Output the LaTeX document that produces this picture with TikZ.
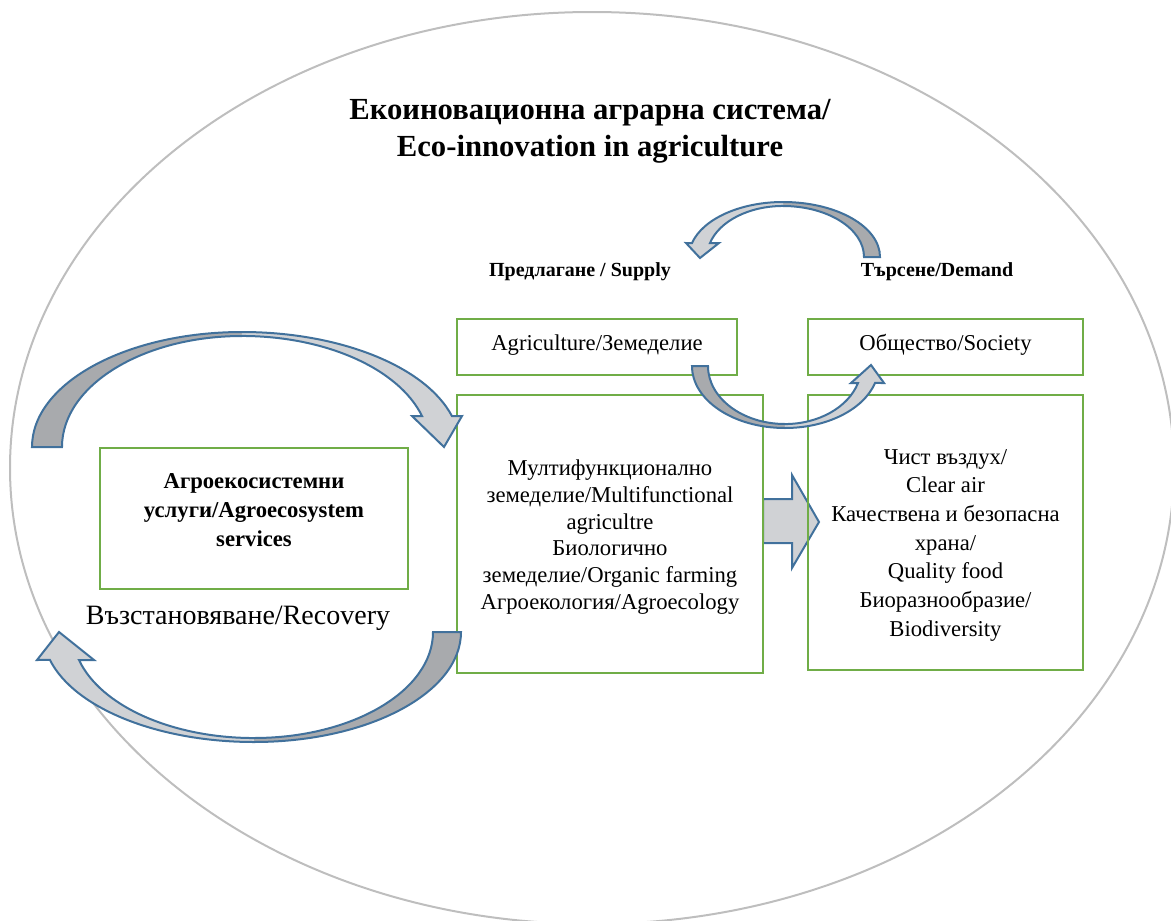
\documentclass[tikz,border=0pt]{standalone}
\usepackage{fontspec}
\setmainfont{Liberation Serif}
\definecolor{boxgreen}{HTML}{70AD47}
\definecolor{arrblue}{HTML}{41719C}
\definecolor{lightg}{HTML}{D0D2D5}
\definecolor{darkg}{HTML}{A8AAAD}
\definecolor{ringgray}{HTML}{BEBEBE}
\begin{document}
\begin{tikzpicture}[x=0.75pt,y=-0.75pt,
  gbox/.style={draw=boxgreen,line width=1.5pt,inner sep=0pt},
  outline/.style={draw=arrblue,line width=1.5pt,line join=miter},
  lightpart/.style={outline,fill=lightg},
  txt/.style={align=center,inner sep=0pt,font=\fontsize{17}{20}\selectfont},
  boldlbl/.style={inner sep=0pt,font=\bfseries\fontsize{15}{18}\selectfont}
]
\useasboundingbox (0,0) rectangle (1171,921);
% outer ring
\draw[ringgray,line width=1.5pt] (592,468) ellipse[x radius=582,y radius=456];

% title
\node[align=center,inner sep=0pt,font=\bfseries\fontsize{23}{27.75}\selectfont] (title) at (590,131)
  {Екоиновационна аграрна система/\\Eco-innovation in agriculture};

% supply / demand labels
\node[boldlbl] (supply) at (580,272) {Предлагане / Supply};
\node[boldlbl] (demand) at (937,272) {Търсене/Demand};

% straight block arrow
\draw[lightpart] (763,499) -- (792,499) -- (792,475) -- (819,522) -- (792,568) -- (792,543) -- (763,543) -- cycle;

% boxes
\node[gbox,minimum width=210pt,minimum height=42pt] (agri) at (597,347) {};
\node[txt] (agritxt) at (597,345) {Agriculture/Земеделие};
\node[gbox,minimum width=206.25pt,minimum height=42pt] (soc) at (945.5,347) {};
\node[txt] (soctxt) at (945.5,345) {Общество/Society};
\node[gbox,minimum width=229.5pt,minimum height=208.5pt] (mid) at (610,534) {};
\node[txt] (midtxt) at (610,537) {Мултифункционално\\земеделие/Multifunctional\\agricultre\\Биологично\\земеделие/Organic farming\\Агроекология/Agroecology};
\node[gbox,minimum width=206.25pt,minimum height=206.25pt] (right) at (945.5,532.5) {};
\node[txt,font=\fontsize{17}{21.5}\selectfont] (righttxt) at (945.5,545) {Чист въздух/\\Clear air\\Качествена и безопасна\\храна/\\Quality food\\Биоразнообразие/\\Biodiversity};
\node[gbox,minimum width=231pt,minimum height=105.75pt] (left) at (254,518.5) {};
\node[txt,font=\bfseries\fontsize{17}{21.75}\selectfont] (lefttxt) at (254,510) {Агроекосистемни\\услуги/Agroecosystem\\services};

% recovery label
\node[inner sep=0pt,font=\fontsize{21}{25}\selectfont] (recovery) at (238,618) {Възстановяване/Recovery};

% curved arrow 1 (top left)
\fill[darkg] (32,447) arc[start angle=180,end angle=270,x radius=210,y radius=115] -- (242,336) arc[start angle=270,end angle=180,x radius=180,y radius=111] -- cycle;
\fill[lightg] (242,332) arc[start angle=270,end angle=344.4,x radius=218,y radius=115] -- (462,416) -- (444,447) -- (412,416) -- (422,416) arc[start angle=343.8,end angle=270,x radius=187.5,y radius=111] -- cycle;
\draw[outline] (242,336) arc[start angle=270,end angle=180,x radius=180,y radius=111] -- (32,447)
  arc[start angle=180,end angle=270,x radius=210,y radius=115]
  arc[start angle=270,end angle=344.4,x radius=218,y radius=115] -- (462,416) -- (444,447) -- (412,416) -- (422,416)
  arc[start angle=343.8,end angle=270,x radius=187.5,y radius=111];

% curved arrow 2 (bottom left)
\fill[darkg] (461,632) arc[start angle=0,end angle=90,x radius=207,y radius=110] -- (254,738) arc[start angle=90,end angle=0,x radius=179,y radius=106] -- cycle;
\fill[lightg] (254,742) arc[start angle=90,end angle=165.3,x radius=211,y radius=110] -- (37,660) -- (59,632) -- (94,660) -- (79,660) arc[start angle=164.7,end angle=90,x radius=181.4,y radius=106] -- cycle;
\draw[outline] (254,738) arc[start angle=90,end angle=0,x radius=179,y radius=106] -- (461,632)
  arc[start angle=0,end angle=90,x radius=207,y radius=110]
  arc[start angle=90,end angle=165.3,x radius=211,y radius=110] -- (37,660) -- (59,632) -- (94,660) -- (79,660)
  arc[start angle=164.7,end angle=90,x radius=181.4,y radius=106];

% curved arrow 3 (demand -> supply)
\fill[darkg] (880,257) arc[start angle=0,end angle=-90,x radius=97,y radius=55] -- (783,206) arc[start angle=-90,end angle=0,x radius=81,y radius=51] -- cycle;
\fill[lightg] (783,202) arc[start angle=-90,end angle=-165.3,x radius=94.1,y radius=55] -- (686,243) -- (700,258) -- (719,243) -- (710,243) arc[start angle=-164.1,end angle=-90,x radius=75.9,y radius=51] -- cycle;
\draw[outline] (783,206) arc[start angle=-90,end angle=0,x radius=81,y radius=51] -- (880,257)
  arc[start angle=0,end angle=-90,x radius=97,y radius=55]
  arc[start angle=-90,end angle=-165.3,x radius=94.1,y radius=55] -- (686,243) -- (700,258) -- (719,243) -- (710,243)
  arc[start angle=-164.1,end angle=-90,x radius=75.9,y radius=51];

% curved arrow 4 (agriculture -> society)
\fill[darkg] (692,366) arc[start angle=180,end angle=90,x radius=93,y radius=62] -- (785,424) arc[start angle=90,end angle=180,x radius=77,y radius=58] -- cycle;
\fill[lightg] (785,428) arc[start angle=90,end angle=15.9,x radius=93.6,y radius=62] -- (884,383) -- (871,365) -- (851,383) -- (858,383) arc[start angle=17.0,end angle=90,x radius=76.4,y radius=58] -- cycle;
\draw[outline] (785,424) arc[start angle=90,end angle=180,x radius=77,y radius=58] -- (692,366)
  arc[start angle=180,end angle=90,x radius=93,y radius=62]
  arc[start angle=90,end angle=15.9,x radius=93.6,y radius=62] -- (884,383) -- (871,365) -- (851,383) -- (858,383)
  arc[start angle=17.0,end angle=90,x radius=76.4,y radius=58];
\end{tikzpicture}
\end{document}
